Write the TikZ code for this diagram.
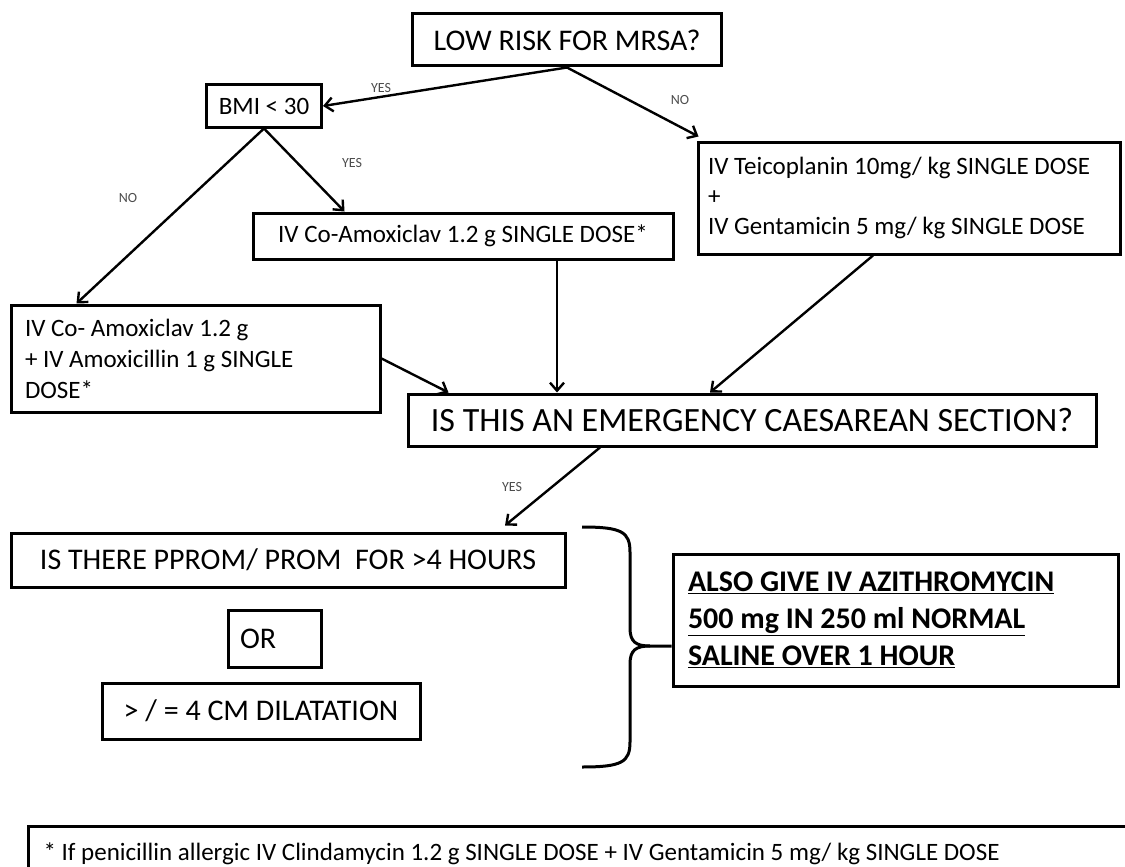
\documentclass[tikz,border=0pt]{standalone}
\usepackage{fontspec}
\setmainfont{Carlito}
\usetikzlibrary{arrows.meta}
\newcommand{\sizeat}[2]{\fontsize{#1}{#2}\selectfont}
\tikzset{
  box/.style={draw, line width=3pt, inner sep=0pt},
  lbl/.style={font=\sizeat{14}{16}, text=black!70},
  link/.style={line width=2.4pt, -{Straight Barb[length=8pt,width=14pt]}},
}
\begin{document}
\begin{tikzpicture}[x=1pt,y=-1pt]
      \useasboundingbox (0,0) rectangle (1125,867);
      \draw
        (567,40) node[box, minimum width=309pt, minimum height=52pt, font=\sizeat{30}{36}] (low) {LOW RISK FOR MRSA?}
        (264,106) node[box, minimum width=115pt, minimum height=42pt, font=\sizeat{25}{30}] (bmi) {BMI < 30}
        (909,198) node[box, minimum width=422pt, minimum height=112pt, text width=402pt, align=flush left, font=\sizeat{25}{30}] (teic)
          {IV Teicoplanin 10mg/ kg SINGLE DOSE\\ +\\ IV Gentamicin 5 mg/ kg SINGLE DOSE}
        (463,236) node[box, minimum width=420pt, minimum height=46pt, font=\sizeat{25}{30}] (coam) {IV Co-Amoxiclav 1.2 g SINGLE DOSE*}
        (195.5,358.5) node[box, minimum width=369pt, minimum height=107pt, text width=341pt, align=flush left, font=\sizeat{25}{31}] (left3)
          {IV Co- Amoxiclav 1.2 g\\ + IV Amoxicillin 1 g SINGLE\\ DOSE*}
        (752,420) node[box, minimum width=688pt, minimum height=52pt, font=\sizeat{34}{40}] (emerg) {IS THIS AN EMERGENCY CAESAREAN SECTION?}
        (288,560) node[box, minimum width=554pt, minimum height=54pt, font=\sizeat{30}{36}] (pprom) {IS THERE PPROM/ PROM\ \ FOR >4 HOURS}
        (274.5,638.5) node[box, minimum width=93pt, minimum height=57pt, text width=69pt, align=flush left, font=\sizeat{30}{36}] (or) {OR}
        (261,711) node[box, minimum width=318pt, minimum height=56pt, font=\sizeat{30}{36}] (dil) {> / = 4 CM DILATATION}
        (895.5,620) node[box, minimum width=445pt, minimum height=132pt, text width=415pt, align=flush left, font=\bfseries\sizeat{30}{37}] (azi)
          {\underline{ALSO GIVE IV AZITHROMYCIN}\\ \underline{500 mg IN 250 ml NORMAL}\\ \underline{SALINE OVER 1 HOUR}}
        (27,825) node[box, anchor=north west, minimum width=1120pt, minimum height=54pt, text width=1090pt, align=flush left, font=\sizeat{25}{30}] (foot)
          {* If penicillin allergic IV Clindamycin 1.2 g SINGLE DOSE + IV Gentamicin 5 mg/ kg SINGLE DOSE}
        (381,88) node[lbl] (yes1) {YES}
        (680,100) node[lbl] (no1) {NO}
        (352,163) node[lbl] (yes2) {YES}
        (128,198) node[lbl] (no2) {NO}
        (512,487) node[lbl] (yes3) {YES};
      \begin{scope}[link]
        \draw (low.south) to (bmi.east);
        \draw (low.south) to ([xshift=2pt,yshift=4pt]teic.north west);
        \draw (bmi.south) to ([xshift=93pt]coam.north west);
        \draw (bmi.south) to ([xshift=67pt]left3.north west);
        \draw (left3.east) to ([xshift=42pt]emerg.north west);
        \draw ([xshift=94pt]coam.south) to ([xshift=94pt]coam.south |- emerg.north);
        \draw ([xshift=-36pt]teic.south) to ([xshift=-42pt]emerg.north);
        \draw ([xshift=-152pt]emerg.south) to ([xshift=217pt,yshift=6pt]pprom.north);
      \end{scope}
      \draw[line width=3pt]
        (582,527) .. controls (622,527) and (630,532) .. (630,552) -- (630,628)
        .. controls (630,642) and (636,646) .. (650,646) -- (azi.west |- 0,646);
      \draw[line width=3pt]
        (650,646) .. controls (636,646) and (630,650) .. (630,664) -- (630,742)
        .. controls (630,762) and (622,767) .. (582,767);
    \end{tikzpicture}
\end{document}
